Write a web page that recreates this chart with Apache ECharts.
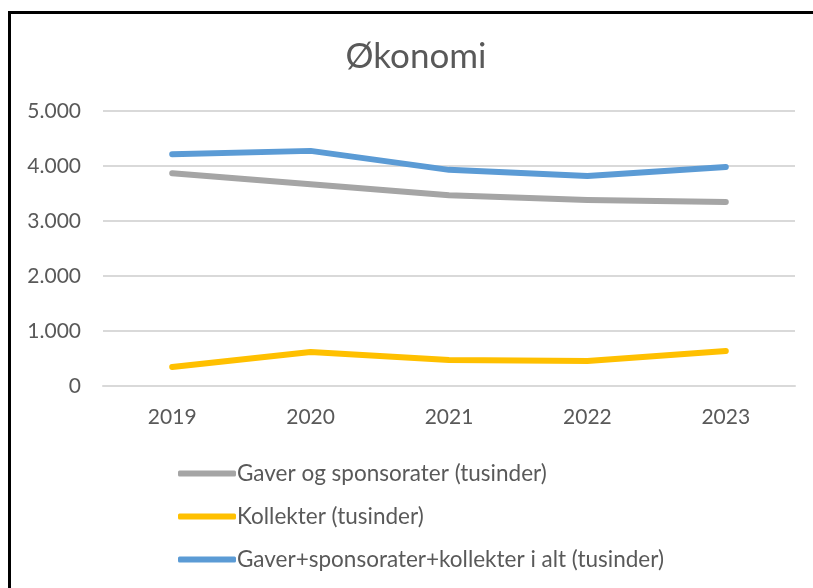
<!DOCTYPE html>
<html>
<head>
<meta charset="utf-8">
<script src="https://cdn.jsdelivr.net/npm/echarts@6/dist/echarts.min.js"></script>
<style>
  html, body { margin: 0; padding: 0; background: #fff; }
  #main { width: 813px; height: 588px; }
</style>
</head>
<body>
<div id="main"></div>
<script>
const years = ['2019', '2020', '2021', '2022', '2023']
const gaver = [3870, 3670, 3470, 3380, 3345]
const kollekter = [345, 618, 473, 455, 636]
const total = [4215, 4275, 3930, 3820, 3982]

const chart = echarts.init(document.getElementById('main'))

const lineSeries = (name, data, color) => ({
  name: name,
  type: 'line',
  data: data,
  symbol: 'none',
  lineStyle: { width: 6, color: color, cap: 'round', join: 'round' },
  itemStyle: { color: color }
})

chart.setOption({
  animation: false,
  title: {
    text: 'Økonomi',
    left: 411,
    textAlign: 'center',
    top: 34,
    textStyle: { fontFamily: 'Lato', fontSize: 35, fontWeight: 'normal', color: '#595959' }
  },
  // outer frame, runs off the right and bottom edges like the original
  graphic: [{
    type: 'rect',
    shape: { x: 9.5, y: 12.5, width: 900, height: 700 },
    style: { fill: 'none', stroke: '#000', lineWidth: 3 }
  }],
  grid: { left: 103, right: 18, top: 111, bottom: 202 },
  xAxis: {
    type: 'category',
    data: years,
    boundaryGap: true,
    axisLine: { lineStyle: { color: '#d9d9d9', width: 2 } },
    axisTick: { show: false },
    axisLabel: { color: '#595959', fontFamily: 'Lato', fontSize: 21, margin: 21 }
  },
  yAxis: {
    type: 'value',
    min: 0,
    max: 5000,
    interval: 1000,
    axisLine: { show: false },
    axisTick: { show: false },
    splitLine: { lineStyle: { color: '#d9d9d9', width: 2 } },
    axisLabel: {
      color: '#595959',
      fontFamily: 'Lato',
      fontSize: 21,
      margin: 22,
      formatter: v => v.toLocaleString('de-DE')
    }
  },
  legend: {
    orient: 'vertical',
    left: 173,
    top: 457,
    itemWidth: 58,
    itemHeight: 6,
    itemGap: 20,
    icon: 'roundRect',
    textStyle: { color: '#595959', fontFamily: 'Lato', fontSize: 22.5, padding: [0, 0, 0, -4] },
    data: ['Gaver og sponsorater (tusinder)', 'Kollekter (tusinder)', 'Gaver+sponsorater+kollekter i alt (tusinder)']
  },
  series: [
    lineSeries('Gaver og sponsorater (tusinder)', gaver, '#a5a5a5'),
    lineSeries('Kollekter (tusinder)', kollekter, '#ffc000'),
    lineSeries('Gaver+sponsorater+kollekter i alt (tusinder)', total, '#5b9bd5')
  ]
})
</script>
</body>
</html>
